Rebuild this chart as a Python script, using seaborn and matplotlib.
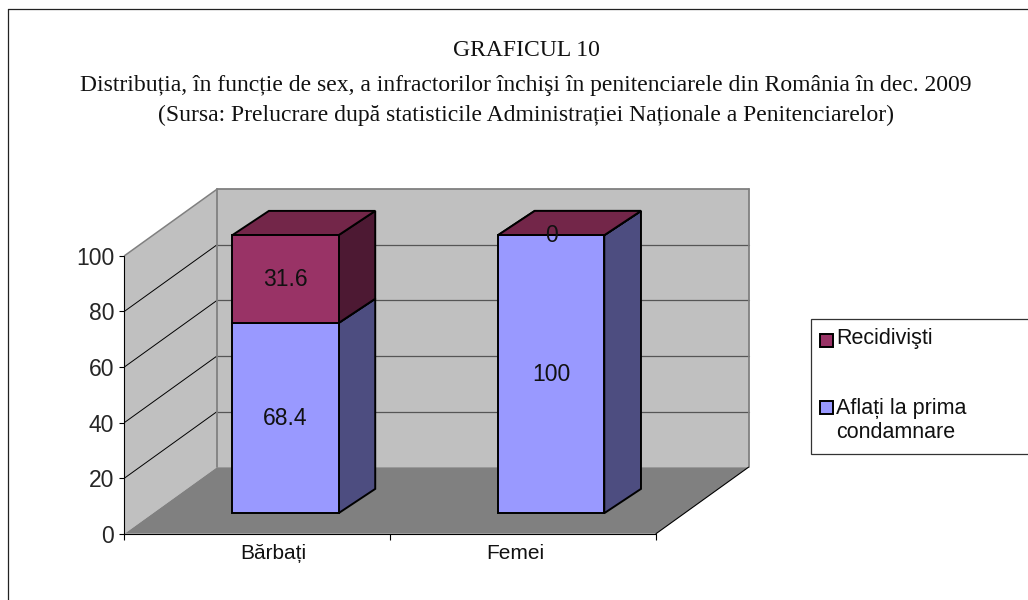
# Stacked "3D" column chart, built on top of a flat seaborn barplot
import numpy as np
import pandas as pd
import matplotlib.pyplot as plt
import seaborn as sns
from matplotlib.patches import Polygon, Rectangle
from matplotlib.lines import Line2D
from matplotlib.transforms import Affine2D, IdentityTransform

categorii = ['Bărbați', 'Femei']
prima_condamnare = [68.4, 100]
recidivisti = [31.6, 0]
y_ticks = [0, 20, 40, 60, 80, 100]
serie_1 = 'Aflați la prima\ncondamnare'
serie_2 = 'Recidivişti'

W, H = 1028, 600
BLUE = '#9999FF'
PURPLE = '#993366'

sns.set_style('white')
plt.rcParams['font.family'] = ['Liberation Sans', 'DejaVu Sans']

fig = plt.figure(figsize=(W / 100, H / 100), dpi=100, facecolor='white')
ax = fig.add_axes([124.5 / W, (H - 533.7) / H, (656 - 124.5) / W, (533.7 - 255.7) / H])
ax.patch.set_alpha(0)
for s in ax.spines.values():
    s.set_visible(False)

df = pd.DataFrame({'cat': categorii, 'a': prima_condamnare, 'b': recidivisti})
sns.barplot(data=df, x='cat', y='a', color=BLUE, width=0.4, saturation=1, ax=ax,
            edgecolor='black', linewidth=1.4, zorder=5)
sns.barplot(data=df, x='cat', y='b', bottom=df['a'], color=PURPLE, width=0.4, saturation=1, ax=ax,
            edgecolor='black', linewidth=1.4, zorder=5)
ax.set_xlim(-0.5, 1.5)
ax.set_ylim(0, 100)
ax.set_xlabel('')
ax.set_ylabel('')

# depth vectors in pixels
WALL = np.array([92.5, 66.5])
BAR_START = np.array([28, 20.5])
BAR_DEPTH = np.array([36.7, 24.3])


def pt(x, y, shift=(0, 0)):
    return ax.transData.transform((x, y)) + np.array(shift)


def face(points, fc, ec='none', lw=0.0, z=1):
    ax.add_patch(Polygon(points, closed=True, facecolor=fc, edgecolor=ec, linewidth=lw,
                         transform=IdentityTransform(), clip_on=False, zorder=z, joinstyle='miter'))


def seg(a, b, color, lw, z=2):
    ax.add_line(Line2D([a[0], b[0]], [a[1], b[1]], color=color, linewidth=lw,
                       transform=IdentityTransform(), clip_on=False, zorder=z))


# walls and floor
x0, x1 = -0.5, 1.5
face([pt(x0, 0), pt(x0, 100), pt(x0, 100, WALL), pt(x0, 0, WALL)], '#C0C0C0')
face([pt(x0, 0, WALL), pt(x0, 100, WALL), pt(x1, 100, WALL), pt(x1, 0, WALL)], '#C0C0C0')
face([pt(x0, 0), pt(x0, 0, WALL), pt(x1, 0, WALL), pt(x1, 0)], '#808080')

for t in y_ticks[1:-1]:
    seg(pt(x0, t), pt(x0, t, WALL), 'black', 0.7)
    seg(pt(x0, t, WALL), pt(x1, t, WALL), '#555555', 0.9)
seg(pt(x0, 100), pt(x0, 100, WALL), '#808080', 1.1)
seg(pt(x0, 100, WALL), pt(x1, 100, WALL), '#808080', 1.3)
seg(pt(x0, 0, WALL), pt(x0, 100, WALL), '#808080', 1.3)
seg(pt(x1, 0, WALL), pt(x1, 100, WALL), '#808080', 1.3)
seg(pt(x0, 0), pt(x0, 100), 'black', 0.8, z=3)
seg(pt(x0, 0), pt(x1, 0), 'black', 0.8, z=3)
seg(pt(x1, 0), pt(x1, 0, WALL), 'black', 0.8, z=3)

# move the flat bars into the room and add top and side faces
move = ax.transData + Affine2D().translate(*BAR_START)
series = [(ax.containers[0], BLUE, '#4D4D80', '#732649'),
          (ax.containers[1], PURPLE, '#4D1933', '#732649')]
for cont, fc, side, top in series:
    for bar in cont:
        bar.set_transform(move)
        bar.set_clip_on(False)
        xa, xb = bar.get_x(), bar.get_x() + bar.get_width()
        ya, yb = bar.get_y(), bar.get_y() + bar.get_height()
        back = BAR_START + BAR_DEPTH
        face([pt(xb, ya, BAR_START), pt(xb, yb, BAR_START), pt(xb, yb, back), pt(xb, ya, back)],
             side, 'black', 1.4, z=4)
        face([pt(xa, yb, BAR_START), pt(xb, yb, BAR_START), pt(xb, yb, back), pt(xa, yb, back)],
             top, 'black', 1.4, z=4)

# value labels on the front faces
for i in range(len(categorii)):
    for val, base in ((prima_condamnare[i], 0), (recidivisti[i], prima_condamnare[i])):
        ax.annotate(f'{val:g}', xy=(i, base + val / 2), xycoords='data',
                    xytext=BAR_START, textcoords='offset pixels',
                    ha='center', va='center', fontsize=16.5, color='#111111', zorder=8,
                    annotation_clip=False)

# axes ticks
ax.set_yticks(y_ticks)
ax.set_xticks([-0.5, 0.5, 1.5])
ax.set_xticklabels([])
ax.tick_params(axis='y', left=True, length=4.5, width=0.8, labelsize=16.5, pad=3, color='black')
ax.tick_params(axis='x', bottom=True, length=4.5, width=0.8, color='black')
for i, (lab, shift) in enumerate(zip(categorii, [16, -8])):
    ax.annotate(lab, xy=(i, 0), xycoords='data', xytext=(shift, -20), textcoords='offset pixels',
                ha='center', va='center', fontsize=15, color='#111111', annotation_clip=False)

# title
title_font = ['Liberation Serif', 'DejaVu Serif']
fig.text(526 / W, 1 - 50 / H, 'GRAFICUL 10', ha='center', va='center', fontsize=17,
         family=title_font, color='#111111')
fig.text(526 / W, 1 - 86 / H,
         'Distribuția, în funcție de sex, a infractorilor închişi în penitenciarele din România în dec. 2009',
         ha='center', va='center', fontsize=17, family=title_font, color='#111111')
fig.text(526 / W, 1 - 115 / H,
         '(Sursa: Prelucrare după statisticile Administrației Naționale a Penitenciarelor)',
         ha='center', va='center', fontsize=17, family=title_font, color='#111111')

# legend box runs off the right side of the picture
fig.add_artist(Rectangle((810.7 / W, 1 - 453.7 / H), (W + 20 - 810.7) / W, (453.7 - 319.3) / H,
                         facecolor='white', edgecolor='#333333', linewidth=0.9,
                         transform=fig.transFigure))
for y_px, col, lab, ty in ((340, PURPLE, serie_2, 339), (407, BLUE, serie_1, 420.5)):
    fig.add_artist(Rectangle((819.5 / W, 1 - (y_px + 6.5) / H), 13 / W, 13 / H, facecolor=col,
                             edgecolor='black', linewidth=1.4, transform=fig.transFigure))
    fig.text(836 / W, 1 - ty / H, lab, ha='left', va='center', fontsize=15.5, color='#111111',
             linespacing=1.2)

# outer frame (left and top only are visible)
fig.add_artist(Line2D([8 / W, 8 / W], [0, 1 - 9 / H], color='#222222', linewidth=0.9))
fig.add_artist(Line2D([8 / W, 1], [1 - 9 / H, 1 - 9 / H], color='#222222', linewidth=0.9))

fig.savefig('out.png', dpi=100)
